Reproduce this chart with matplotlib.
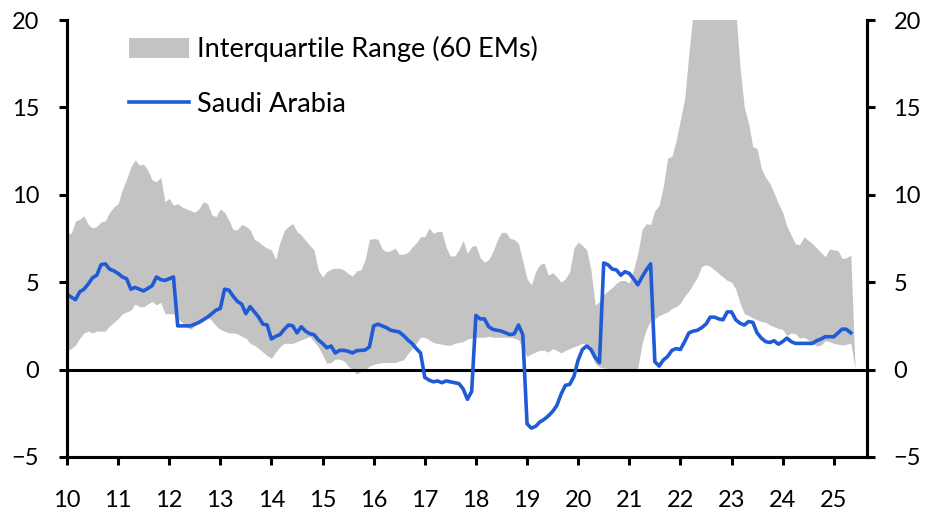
import numpy as np
import matplotlib.pyplot as plt

plt.rcParams['font.family'] = ['Lato', 'DejaVu Sans']

# monthly data, Jan 2010 onwards (one row per year)
saudi = [
    4.3, 4.15, 4.0, 4.45, 4.6, 4.9, 5.25, 5.4, 6.0, 6.05, 5.75, 5.65,      # 2010
    5.5, 5.3, 5.2, 4.6, 4.7, 4.6, 4.5, 4.65, 4.8, 5.3, 5.15, 5.1,          # 2011
    5.2, 5.3, 2.5, 2.5, 2.5, 2.5, 2.6, 2.7, 2.85, 3.0, 3.2, 3.4,           # 2012
    3.5, 4.6, 4.55, 4.2, 3.9, 3.75, 3.2, 3.6, 3.3, 3.0, 2.6, 2.55,         # 2013
    1.75, 1.9, 2.0, 2.3, 2.55, 2.5, 2.1, 2.45, 2.2, 2.05, 2.0, 1.7,        # 2014
    1.5, 1.25, 1.35, 0.95, 1.1, 1.1, 1.05, 0.95, 1.08, 1.1, 1.12, 1.3,     # 2015
    2.5, 2.6, 2.5, 2.4, 2.25, 2.2, 2.15, 1.95, 1.7, 1.5, 1.2, 0.95,        # 2016
    -0.45, -0.6, -0.7, -0.65, -0.75, -0.65, -0.7, -0.75, -0.8, -1.1, -1.7, -1.25,  # 2017
    3.1, 2.9, 2.9, 2.45, 2.3, 2.25, 2.2, 2.1, 2.0, 2.05, 2.55, 2.0,        # 2018
    -3.1, -3.35, -3.25, -3.0, -2.85, -2.65, -2.4, -2.05, -1.4, -0.9, -0.85, -0.4,  # 2019
    0.55, 1.15, 1.35, 1.15, 0.7, 0.4, 6.1, 6.0, 5.75, 5.7, 5.4, 5.6,       # 2020
    5.5, 5.2, 4.85, 5.3, 5.7, 6.05, 0.45, 0.2, 0.55, 0.75, 1.1, 1.2,       # 2021
    1.15, 1.6, 2.1, 2.2, 2.25, 2.4, 2.6, 3.0, 3.0, 2.9, 2.85, 3.3,         # 2022
    3.3, 2.85, 2.65, 2.55, 2.75, 2.7, 2.1, 1.8, 1.6, 1.55, 1.65, 1.45,     # 2023
    1.6, 1.8, 1.6, 1.5, 1.5, 1.5, 1.5, 1.5, 1.65, 1.75, 1.88, 1.88,        # 2024
    1.88, 2.1, 2.32, 2.3, 2.1,                                             # 2025
]

iqr_upper = [
    7.8, 7.8, 8.5, 8.6, 8.8, 8.3, 8.1, 8.2, 8.45, 8.5, 9.0, 9.3,
    9.5, 10.3, 10.9, 11.6, 12.0, 11.7, 11.75, 11.4, 10.85, 10.75, 11.0, 9.6,
    9.8, 9.4, 9.5, 9.3, 9.2, 9.1, 9.0, 9.2, 9.6, 9.5, 8.85, 8.75,
    9.2, 9.0, 8.55, 8.0, 8.0, 8.3, 8.2, 8.0, 7.45, 7.3, 7.1, 6.95,
    6.85, 6.3, 7.3, 7.95, 8.2, 8.35, 7.9, 7.7, 7.4, 7.1, 6.85, 5.7,
    5.3, 5.6, 5.75, 5.8, 5.8, 5.7, 5.5, 5.35, 5.65, 5.7, 6.3, 7.45,
    7.5, 7.45, 6.9, 6.75, 6.8, 6.95, 6.6, 6.6, 6.7, 7.0, 7.25, 7.6,
    7.6, 8.1, 7.8, 7.9, 7.9, 7.0, 6.5, 6.5, 6.85, 7.4, 6.65, 7.05,
    7.1, 6.4, 6.15, 6.3, 6.75, 7.4, 7.85, 7.85, 7.5, 7.45, 7.2, 6.2,
    5.2, 4.85, 5.6, 6.0, 6.1, 5.4, 5.55, 5.3, 5.0, 5.2, 5.6, 6.95,
    7.3, 7.1, 6.85, 5.7, 3.7, 3.9, 4.3, 4.5, 4.7, 4.95, 5.1, 5.1,
    4.95, 5.7, 6.65, 8.0, 8.35, 8.3, 9.1, 9.4, 10.5, 12.1, 12.2, 13.1,
    14.3, 15.5, 18.1, 20.5, 22.0, 23.0, 24.0, 24.0, 24.0, 23.0, 22.5, 22.0,
    21.0, 20.5, 17.3, 15.0, 14.1, 12.75, 12.65, 11.5, 11.0, 10.65, 10.1, 9.5,
    9.0, 8.2, 7.7, 7.2, 7.15, 7.6, 7.4, 7.2, 6.95, 6.7, 6.45, 6.9,
    6.85, 6.8, 6.35, 6.4, 6.55, 0.1,
]

iqr_lower = [
    1.1, 1.2, 1.4, 1.8, 2.1, 2.2, 2.1, 2.2, 2.2, 2.2, 2.5, 2.7,
    2.9, 3.2, 3.3, 3.4, 3.75, 3.6, 3.6, 3.75, 3.9, 3.7, 3.85, 3.2,
    3.2, 3.2, 2.9, 2.7, 2.45, 2.3, 2.5, 2.7, 2.9, 3.0, 2.8, 2.5,
    2.3, 2.2, 2.1, 2.1, 2.05, 1.9, 1.8, 1.5, 1.4, 1.2, 1.0, 0.8,
    0.65, 1.0, 1.3, 1.5, 1.5, 1.5, 1.6, 1.7, 1.8, 1.9, 1.6, 1.3,
    0.85, 0.35, 0.4, 0.6, 0.6, 0.5, 0.2, 0.0, -0.25, -0.1, 0.0, 0.2,
    0.3, 0.35, 0.4, 0.4, 0.4, 0.4, 0.5, 0.55, 0.9, 1.2, 1.5, 1.85,
    1.85, 1.7, 1.55, 1.5, 1.45, 1.4, 1.4, 1.5, 1.55, 1.6, 1.75, 1.8,
    1.85, 1.85, 1.85, 1.9, 1.85, 1.85, 1.85, 1.85, 1.85, 1.8, 1.7, 1.2,
    0.75, 0.9, 1.0, 1.1, 1.1, 1.0, 1.2, 1.1, 0.95, 1.1, 1.2, 1.3,
    1.4, 1.5, 1.45, 0.9, 0.35, 0.15, 0.1, 0.05, 0.0, 0.0, 0.05, 0.0,
    0.0, 0.0, 0.1, 1.5, 2.3, 2.8, 2.9, 3.1, 3.2, 3.3, 3.5, 3.6,
    3.8, 4.2, 4.5, 4.9, 5.3, 5.9, 6.0, 5.9, 5.7, 5.5, 5.3, 5.1,
    5.0, 4.6, 3.8, 3.2, 3.1, 2.95, 2.85, 2.75, 2.7, 2.55, 2.45, 2.35,
    2.3, 1.95, 2.1, 2.05, 1.8, 1.85, 1.7, 1.5, 1.35, 1.4, 1.65, 1.6,
    1.5, 1.45, 1.4, 1.45, 1.5, 0.05,
]

years = list(range(2010, 2026))
year_labels = [str(y)[2:] for y in years]
y_ticks = list(range(-5, 21, 5))

t_line = 2010 + np.arange(len(saudi)) / 12
t_band = 2010 + np.arange(len(iqr_upper)) / 12

fig = plt.figure(figsize=(9.43, 5.31), dpi=100)
ax = fig.add_axes([0.071, 0.1394, 0.8484, 0.8229])

ax.fill_between(t_band, iqr_lower, iqr_upper, color='#c3c3c3', lw=0,
                label='Interquartile Range (60 EMs)')
ax.plot(t_line, saudi, color='#1f5bd6', lw=2.6, label='Saudi Arabia')
ax.axhline(0, color='black', lw=2.2, zorder=1)

ax.set_xlim(2010, 2025.65)
ax.set_ylim(-5, 20)
ax.set_yticks(y_ticks)
ax.set_xticks(years)
ax.set_xticklabels(year_labels)

# right hand axis, same scale
ax2 = ax.twinx()
ax2.set_ylim(-5, 20)
ax2.set_yticks(y_ticks)

for a in (ax, ax2):
    a.spines['top'].set_visible(False)
    for s in ['left', 'right', 'bottom']:
        a.spines[s].set_linewidth(2.2)
ax.tick_params(direction='out', length=6, width=2.2, labelsize=17)
ax.tick_params(axis='y', pad=14)
ax.tick_params(axis='x', pad=18)
ax2.tick_params(direction='out', length=6, width=2.2, labelsize=17, pad=13)

leg = ax.legend(loc='upper left', bbox_to_anchor=(0.078, 0.963), frameon=False,
                fontsize=19.5, handlelength=2.2, handleheight=0.8,
                handletextpad=0.3, labelspacing=1.1, borderpad=0,
                borderaxespad=0)

fig.savefig('out.png', dpi=100)
